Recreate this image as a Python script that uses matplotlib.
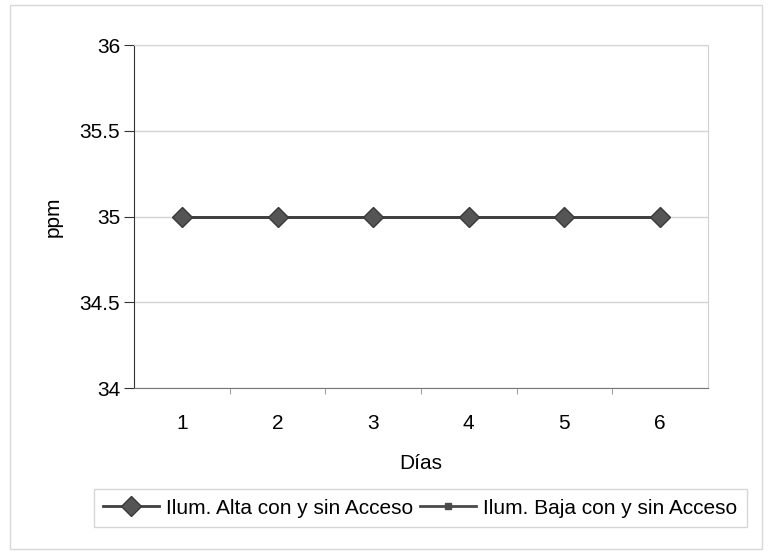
import matplotlib
matplotlib.use("Agg")
import matplotlib.pyplot as plt
from matplotlib.patches import Rectangle

dias = [1, 2, 3, 4, 5, 6]
alta = [35, 35, 35, 35, 35, 35]
baja = [35, 35, 35, 35, 35, 35]
yticks = [34, 34.5, 35, 35.5, 36]
ytick_labels = ["34", "34.5", "35", "35.5", "36"]

plt.rcParams.update({
    "font.family": ["Liberation Sans", "DejaVu Sans"],
    "font.size": 15,
})

fig = plt.figure(figsize=(7.71, 5.56), dpi=100)
ax = fig.add_axes([0.174, 0.302, 0.744, 0.617])

# chart border
fig.patches.append(Rectangle((0.013, 0.012), 0.975, 0.979, transform=fig.transFigure,
                             fill=False, edgecolor="#d8d8d8", lw=1))

ax.plot(dias, baja, color="#4a4a4a", lw=2, marker="s", ms=4,
        mfc="#4a4a4a", mec="#4a4a4a", label="Ilum. Baja con y sin Acceso", zorder=3)
ax.plot(dias, alta, color="#3f3f3f", lw=2, marker="D", ms=10,
        mfc="#555555", mec="#3a3a3a", mew=1, label="Ilum. Alta con y sin Acceso", zorder=4)

ax.set_xlim(0.5, 6.5)
ax.set_ylim(34, 36)
ax.set_yticks(yticks)
ax.set_yticklabels(ytick_labels)
ax.set_xticks(dias)
ax.set_xticks([1.5, 2.5, 3.5, 4.5, 5.5], minor=True)
ax.tick_params(axis="x", which="major", length=0, pad=19)
ax.tick_params(axis="x", which="minor", length=4, color="#888888", direction="out")
ax.tick_params(axis="y", length=7, color="#333333", pad=3)

ax.grid(axis="y", color="#d4d4d4", lw=1)
ax.set_axisbelow(True)
ax.spines["left"].set_color("#333333")
ax.spines["bottom"].set_color("#777777")
ax.spines["bottom"].set_linestyle((0, (2, 1)))
ax.spines["right"].set_color("#d0d0d0")
ax.spines["top"].set_color("#d4d4d4")

ax.set_xlabel("Días", labelpad=15)
ax.set_ylabel("ppm", labelpad=12)

handles, labels = ax.get_legend_handles_labels()
leg = fig.legend(handles[::-1], labels[::-1], loc="center", ncol=2,
                 bbox_to_anchor=(0.545, 0.086), frameon=True, fancybox=False,
                 handlelength=2.7, handletextpad=0.35, columnspacing=0.3,
                 borderpad=0.45, fontsize=15)
leg.get_frame().set_edgecolor("#cccccc")
leg.get_frame().set_linewidth(1)

fig.savefig("out.png", dpi=100)
